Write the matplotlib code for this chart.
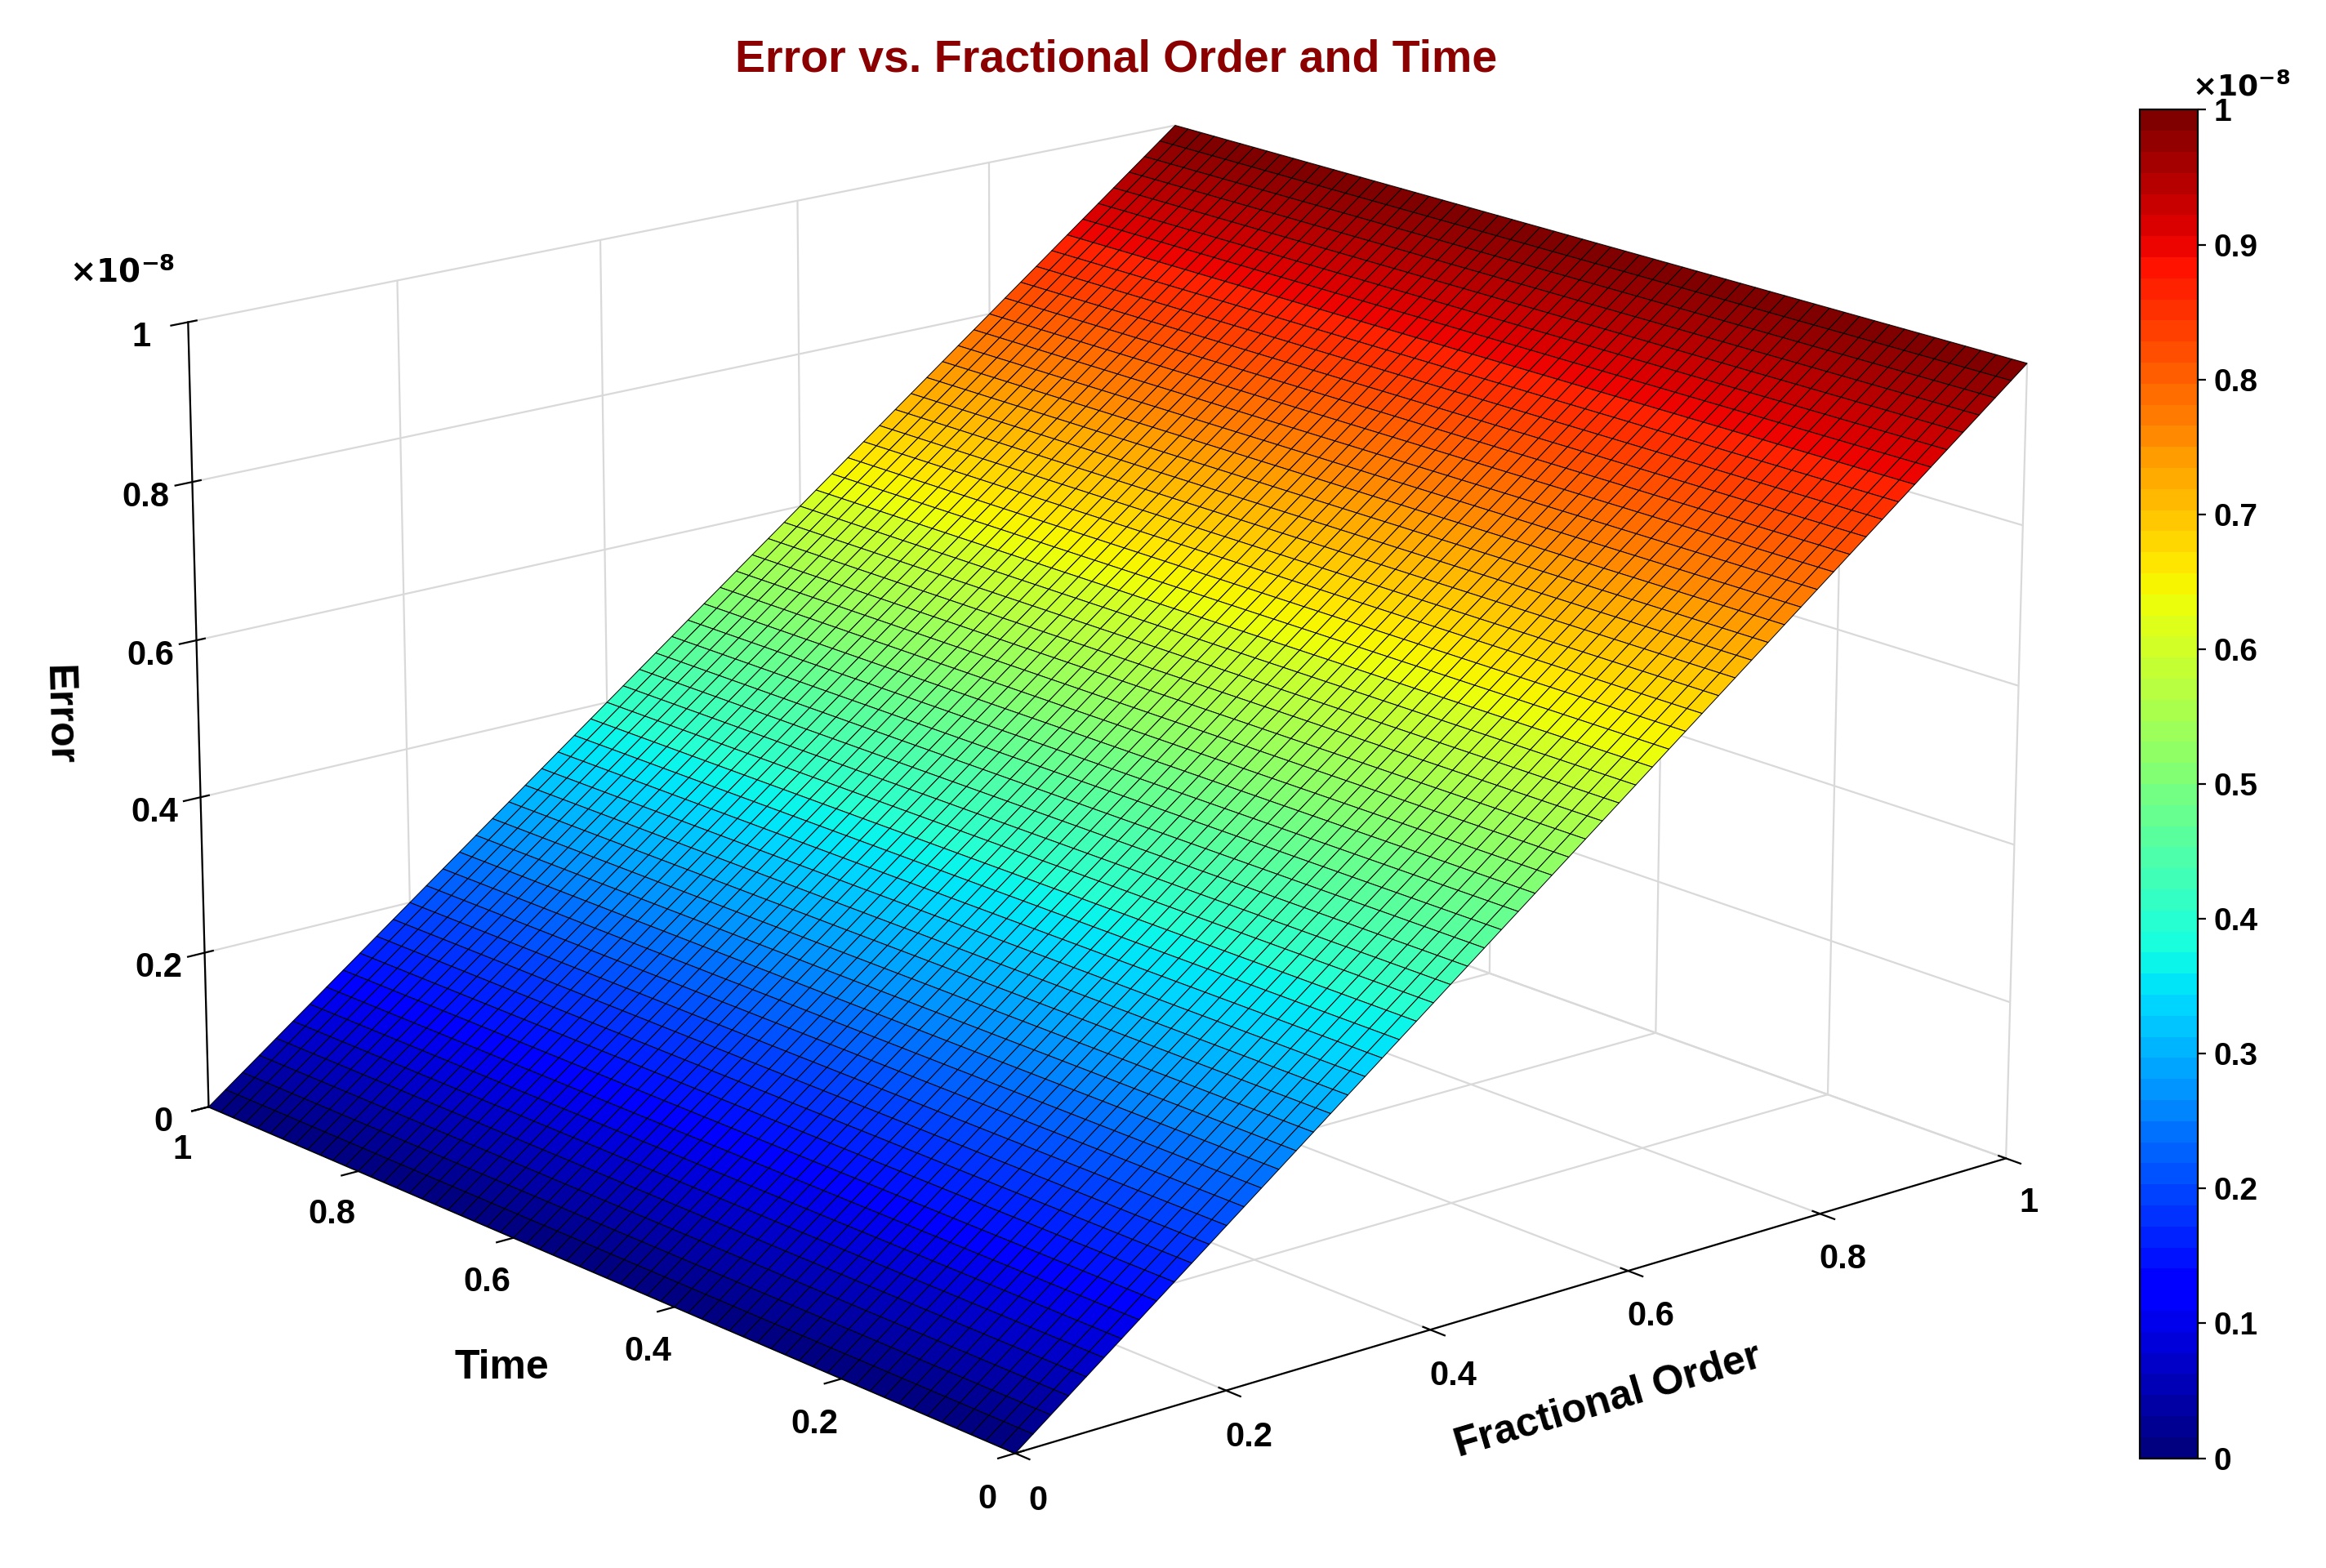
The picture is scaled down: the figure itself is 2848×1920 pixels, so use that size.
import numpy as np
import matplotlib.pyplot as plt
from matplotlib import cm
from matplotlib.colors import ListedColormap

# values (error grows with fractional order, flat along time)
fractional_order = [0.0, 0.1, 0.2, 0.3, 0.4, 0.5, 0.6, 0.7, 0.8, 0.9, 1.0]
time_vals = [0.0, 0.1, 0.2, 0.3, 0.4, 0.5, 0.6, 0.7, 0.8, 0.9, 1.0]
error_by_order = [0.0, 0.1, 0.2, 0.3, 0.4, 0.5, 0.6, 0.7, 0.8, 0.9, 1.0]  # x1e-8

plt.rcParams['font.family'] = ['Liberation Sans', 'DejaVu Sans']
plt.rcParams['font.weight'] = 'bold'

# dense mesh like the MATLAB surf
fo_grid = np.linspace(0, 1, 61)
t_grid = np.linspace(0, 1, 61)
X, Y = np.meshgrid(fo_grid, t_grid)
Z = np.tile(np.interp(fo_grid, fractional_order, error_by_order) * 1e-8, (len(t_grid), 1))

jet64 = ListedColormap(cm.jet(np.linspace(0, 1, 64)))
fig = plt.figure(figsize=(14.24, 9.6), dpi=200)
ax = fig.add_axes([-0.148, -0.11, 1.22, 1.24], projection='3d')
ax.set_box_aspect((1, 1, 0.64), zoom=1.0)
surf = ax.plot_surface(X, Y, Z, cmap=jet64, vmin=0, vmax=1e-8,
                       edgecolor='k', linewidth=0.35, rstride=1, cstride=1,
                       antialiased=True, shade=False)
ax.view_init(elev=17, azim=-130)
ax.set_xlim(0, 1)
ax.set_ylim(0, 1)
ax.set_zlim(0, 1e-8)
ticks = [0, 0.2, 0.4, 0.6, 0.8, 1]
labels = ['0', '0.2', '0.4', '0.6', '0.8', '1']
ax.set_xticks(ticks)
ax.set_xticklabels(labels)
ax.set_yticks(ticks)
ax.set_yticklabels(labels)
ax.set_zticks([t * 1e-8 for t in ticks])
ax.set_zticklabels(labels)
for a in (ax.xaxis, ax.yaxis, ax.zaxis):
    a.set_pane_color((1, 1, 1, 1))
    a._axinfo['grid']['color'] = (0.85, 0.85, 0.85, 1)
    a._axinfo['grid']['linewidth'] = 0.8
ax.tick_params(labelsize=15)
ax.set_xlabel('Fractional Order', fontsize=18, fontweight='bold', labelpad=18)
ax.set_ylabel('Time', fontsize=18, fontweight='bold', labelpad=18)
ax.set_zlabel('Error', fontsize=18, fontweight='bold', labelpad=14)
fig.text(0.03, 0.82, r'$\times10^{-8}$', fontsize=14)
fig.suptitle('Error vs. Fractional Order and Time', color='#8B0000',
             fontsize=20, fontweight='bold', y=0.975, x=0.48)

cax = fig.add_axes([0.92, 0.07, 0.025, 0.86])
cb = fig.colorbar(surf, cax=cax)
cb.set_ticks([i * 1e-9 for i in range(11)])
cb.set_ticklabels(['0', '0.1', '0.2', '0.3', '0.4', '0.5', '0.6', '0.7', '0.8', '0.9', '1'])
cb.ax.tick_params(labelsize=14)
cax.text(0.9, 1.01, r'$\times10^{-8}$', transform=cax.transAxes, fontsize=13)

fig.savefig('out.png', dpi=200, facecolor='white')
